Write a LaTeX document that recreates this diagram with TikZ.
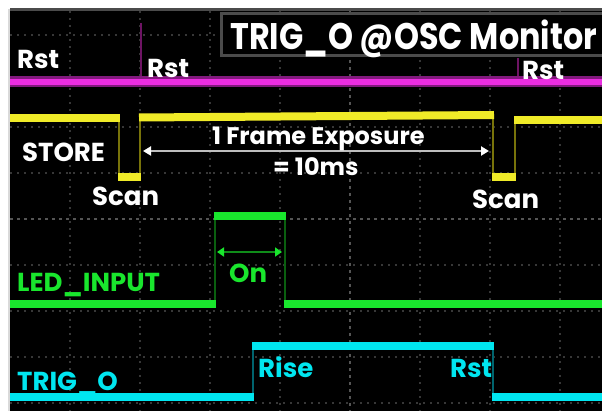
\documentclass[tikz,border=0pt]{standalone}
\usepackage{fontspec}
\setmainfont{Poppins}
\newfontfamily\titlefont{Poppins}[FakeStretch=0.86]
\usetikzlibrary{arrows.meta}

\definecolor{oscMag}{RGB}{235,45,225}
\definecolor{oscMagDim}{RGB}{110,20,100}
\definecolor{oscMagEdge}{RGB}{130,25,125}
\definecolor{oscYel}{RGB}{240,235,40}
\definecolor{oscYelDim}{RGB}{120,115,10}
\definecolor{oscGrn}{RGB}{25,230,45}
\definecolor{oscGrnDim}{RGB}{10,95,15}
\definecolor{oscGrnArr}{RGB}{15,140,25}
\definecolor{oscCyn}{RGB}{0,230,240}
\definecolor{oscCynDim}{RGB}{0,100,110}
\definecolor{oscGrid}{RGB}{55,55,55}
\definecolor{oscGridMain}{RGB}{85,85,85}
\definecolor{oscFrame}{RGB}{75,75,75}
\definecolor{oscArr}{RGB}{190,190,190}

\tikzset{
  trace/.style={line width=8pt},
  edge/.style={line width=2.5pt},
  gridline/.style={oscGrid, line width=1.5pt, dash pattern=on 2pt off 5pt},
  gridmain/.style={oscGridMain, line width=1.5pt, dash pattern=on 3pt off 4pt},
  lbl/.style={anchor=base west, inner sep=0pt, font=\fontsize{26}{30}\selectfont\bfseries},
}

\begin{document}
\begin{tikzpicture}[x=1pt, y=-1pt, line cap=butt, line join=miter]

  %% ════ 画布与边框 ════
  \fill[white] (0,0) rectangle (602,411);
  \fill[black] (10,10) rectangle (602,411);
  \draw[line width=3pt, oscFrame] (10,9.5) -- (602,9.5);
  \draw[line width=2pt, black!15] (9,9) -- (9,411);

  %% ════ 网格 ════
  \foreach \gx in {70,140,210,280,420,490,560}
    \draw[gridline] (\gx,11) -- (\gx,411);
  \foreach \gy in {35,81,127,173,265,311,357,403}
    \draw[gridline] (10,\gy) -- (602,\gy);
  \draw[gridmain] (350,11) -- (350,411);
  \draw[gridmain] (10,219) -- (602,219);

  %% ════ 标题框 ════
  \fill[black] (220,12) rectangle (602,57);
  \draw[line width=3pt, oscFrame] (603,13.5) -- (221.5,13.5) -- (221.5,55.5) -- (603,55.5);
  \node[lbl, text=white, font=\titlefont\fontsize{37}{40}\selectfont\bfseries] (title) at (230,50) {TRIG\_O @OSC Monitor};

  %% ════ Rst（品红）════
  \draw[edge, oscMagDim] (141,23) -- (141,80);
  \draw[edge, oscMagDim] (518,58) -- (518,80);
  \draw[line width=11pt, oscMagEdge] (10,82) -- (602,82);
  \draw[line width=6pt, oscMag] (10,82) -- (602,82);
  \node[lbl, text=white] (rstA) at (17,69) {Rst};
  \node[lbl, text=white] (rstB) at (147,78) {Rst};
  \node[lbl, text=white] (rstC) at (522,80) {Rst};

  %% ════ STORE（黄）════
  \draw[edge, oscYelDim] (119,118) -- (119,177);
  \draw[edge, oscYelDim] (140,177) -- (140,117);
  \draw[edge, oscYelDim] (493,115) -- (493,177);
  \draw[edge, oscYelDim] (515,177) -- (515,120);
  \draw[trace, oscYel] (10,118) -- (120,118);
  \draw[trace, oscYel] (118,177) -- (141,177);
  \draw[trace, oscYel] (139,117.5) -- (494,115);
  \draw[trace, oscYel] (492,177) -- (516,177);
  \draw[trace, oscYel] (514,120) -- (602,120);
  \node[lbl, text=white] (store) at (22,162) {STORE};
  \node[lbl, text=white] (scanA) at (92,206) {Scan};
  \node[lbl, text=white] (scanB) at (472,209) {Scan};

  % 曝光时间箭头
  \coordinate (expL) at (143,151);
  \coordinate (expR) at (489,151);
  \draw[line width=2.5pt, oscArr, {Triangle[width=9pt,length=8pt,white]}-{Triangle[width=9pt,length=8pt,white]}] (expL) -- (expR);
  \node[lbl, text=white, font=\fontsize{24}{28}\selectfont\bfseries] (expo) at (212,145) {1 Frame Exposure};
  \node[lbl, text=white, font=\fontsize{24}{28}\selectfont\bfseries] (tenms) at (273,176) {= 10ms};

  %% ════ LED_INPUT（绿）════
  \draw[edge, oscGrnDim] (215,304) -- (215,216);
  \draw[edge, oscGrnDim] (285,216) -- (285,304);
  \draw[trace, oscGrn] (10,304) -- (216,304);
  \draw[trace, oscGrn] (214,216) -- (286,216);
  \draw[trace, oscGrn] (284,304) -- (602,304);
  \coordinate (onL) at (217,252);
  \coordinate (onR) at (282,252);
  \draw[line width=2.5pt, oscGrnArr, {Triangle[width=9pt,length=7pt,oscGrn]}-{Triangle[width=9pt,length=7pt,oscGrn]}] (onL) -- (onR);
  \node[lbl, text=oscGrn] (led) at (17,292) {LED\_INPUT};
  \node[lbl, text=oscGrn] (on) at (229,283) {On};

  %% ════ TRIG_O（青）════
  \draw[edge, oscCynDim] (253,397) -- (253,346);
  \draw[edge, oscCynDim] (493,346) -- (493,397);
  \draw[trace, oscCyn] (10,397) -- (254,397);
  \draw[trace, oscCyn] (252,346) -- (494,346);
  \draw[trace, oscCyn] (492,397) -- (602,397);
  \node[lbl, text=oscCyn] (trig) at (17,390) {TRIG\_O};
  \node[lbl, text=oscCyn] (rise) at (258,377) {Rise};
  \node[lbl, text=oscCyn] (rstD) at (450,377) {Rst};

  % 钉死画布
  \pgfresetboundingbox
  \path[use as bounding box] (0,0) rectangle (602,411);
\end{tikzpicture}
\end{document}
